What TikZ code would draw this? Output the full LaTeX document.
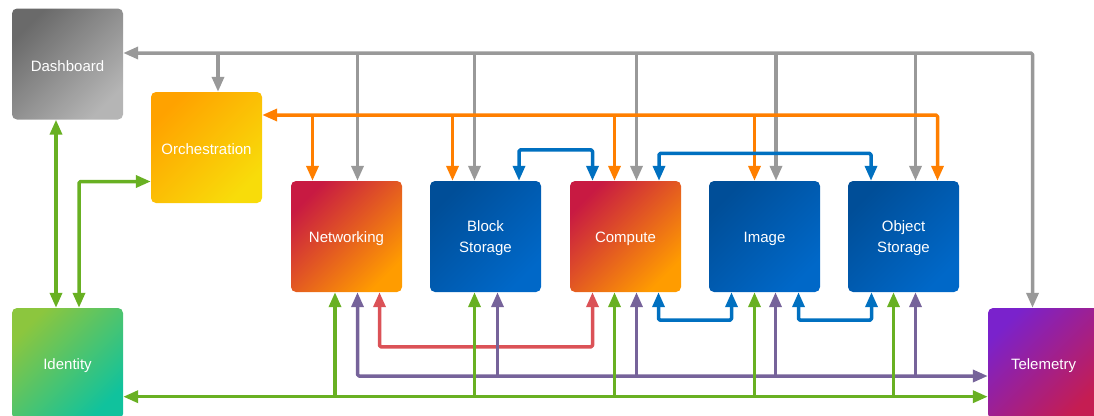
\documentclass[tikz,border=0pt]{standalone}
\usepackage{fontspec}
\setmainfont{Liberation Sans}
\usetikzlibrary{arrows.meta}
\definecolor{cgrey}{HTML}{999999}
\definecolor{corange}{HTML}{FF7F00}
\definecolor{cblue}{HTML}{0070C0}
\definecolor{cred}{HTML}{DB5257}
\definecolor{cpurple}{HTML}{76639A}
\definecolor{cgreen}{HTML}{68B022}
\definecolor{dashA}{HTML}{6A6A6A}
\definecolor{dashB}{HTML}{B5B5B5}
\definecolor{orchA}{HTML}{FFA200}
\definecolor{orchB}{HTML}{F8DC0A}
\definecolor{hotA}{HTML}{C81A42}
\definecolor{hotB}{HTML}{FF9C00}
\definecolor{blueA}{HTML}{004E98}
\definecolor{blueB}{HTML}{0068C8}
\definecolor{idA}{HTML}{8CC63E}
\definecolor{idB}{HTML}{10C29D}
\definecolor{telA}{HTML}{7A22CC}
\definecolor{telB}{HTML}{C51D52}
\begin{document}
\begin{tikzpicture}[x=1pt,y=1pt,
  box/.style={rounded corners=5pt, minimum width=111pt, minimum height=111pt, inner sep=0pt,
    align=center, text=white, font=\fontsize{15}{21}\selectfont},
  wire/.style={line width=3.5pt, line join=round, rounded corners=1.5pt},
  >={Triangle[length=15pt,width=12pt]}]
\useasboundingbox (0,0) rectangle (1094,-415);
\clip (0,0) rectangle (1094,-415);
% nodes
\node[box, top color=dashA, bottom color=dashB, shading angle=45] (dash) at (67.5,-64) {\rule{0pt}{15pt}Dashboard};
\node[box, top color=orchA, bottom color=orchB, shading angle=45] (orch) at (206.5,-147.5) {\rule{0pt}{15pt}Orchestration};
\node[box, top color=hotA, bottom color=hotB, shading angle=45] (net) at (346.5,-236.5) {\rule{0pt}{15pt}Networking};
\node[box, top color=blueA, bottom color=blueB, shading angle=45] (block) at (485.5,-236.5) {\rule{0pt}{15pt}Block\\Storage};
\node[box, top color=hotA, bottom color=hotB, shading angle=45] (comp) at (625.5,-236.5) {\rule{0pt}{15pt}Compute};
\node[box, top color=blueA, bottom color=blueB, shading angle=45] (img) at (764.5,-236.5) {\rule{0pt}{15pt}Image};
\node[box, top color=blueA, bottom color=blueB, shading angle=45] (obj) at (903.5,-236.5) {\rule{0pt}{15pt}Object\\Storage};
\node[box, top color=idA, bottom color=idB, shading angle=45] (ident) at (67.5,-363.5) {\rule{0pt}{15pt}Identity};
\node[box, top color=telA, bottom color=telB, shading angle=45] (tele) at (1043.5,-363.5) {\rule{0pt}{15pt}Telemetry};
\coordinate (gbus) at (0,-53);
\coordinate (obus) at (0,-115);
\coordinate (pbus) at (0,-376);
\coordinate (gnbus) at (0,-396.7);
% grey
\begin{scope}[wire, cgrey]
\draw[<->] ([yshift=11pt]dash.east) -| ([xshift=-11pt]tele.north);
\draw[->] ([xshift=11.5pt]orch.north |- gbus) -- ([xshift=11.5pt]orch.north);
\draw[->] ([xshift=11pt]net.north |- gbus) -- ([xshift=11pt]net.north);
\draw[->] ([xshift=-11pt]block.north |- gbus) -- ([xshift=-11pt]block.north);
\draw[->] ([xshift=11pt]comp.north |- gbus) -- ([xshift=11pt]comp.north);
\draw[->] ([xshift=11.5pt]img.north |- gbus) -- ([xshift=11.5pt]img.north);
\draw[->] ([xshift=12pt]obj.north |- gbus) -- ([xshift=12pt]obj.north);
\end{scope}
% orange
\begin{scope}[wire, corange]
\draw[<->] ([yshift=32.5pt]orch.east) -| ([xshift=34pt]obj.north);
\draw[->] ([xshift=-34pt]net.north |- obus) -- ([xshift=-34pt]net.north);
\draw[->] ([xshift=-33pt]block.north |- obus) -- ([xshift=-33pt]block.north);
\draw[->] ([xshift=-11pt]comp.north |- obus) -- ([xshift=-11pt]comp.north);
\draw[->] ([xshift=-10pt]img.north |- obus) -- ([xshift=-10pt]img.north);
\end{scope}
% blue
\begin{scope}[wire, cblue]
\draw[<->] ([xshift=33.5pt]block.north) -- ++(0,31) -| ([xshift=-33pt]comp.north);
\draw[<->] ([xshift=33.5pt]comp.north) -- ++(0,27.5) -| ([xshift=-32.5pt]obj.north);
\draw[<->] ([xshift=33pt]comp.south) -- ++(0,-28) -| ([xshift=-33pt]img.south);
\draw[<->] ([xshift=34pt]img.south) -- ++(0,-28) -| ([xshift=-32pt]obj.south);
\end{scope}
% red
\draw[wire, cred, <->] ([xshift=33pt]net.south) -- ++(0,-54.7) -| ([xshift=-33pt]comp.south);
% purple
\begin{scope}[wire, cpurple]
\draw[<->] ([xshift=11pt]net.south) |- ([yshift=-12.5pt]tele.west);
\draw[->] ([xshift=12pt]block.south |- pbus) -- ([xshift=12pt]block.south);
\draw[->] ([xshift=11pt]comp.south |- pbus) -- ([xshift=11pt]comp.south);
\draw[->] ([xshift=11pt]img.south |- pbus) -- ([xshift=11pt]img.south);
\draw[->] ([xshift=12pt]obj.south |- pbus) -- ([xshift=12pt]obj.south);
\end{scope}
% green
\begin{scope}[wire, cgreen]
\draw[<->] ([yshift=-33.2pt]ident.east) -- ([yshift=-33.2pt]tele.west);
\draw[->] ([xshift=-11.5pt]net.south |- gnbus) -- ([xshift=-11.5pt]net.south);
\draw[->] ([xshift=-11pt]block.south |- gnbus) -- ([xshift=-11pt]block.south);
\draw[->] ([xshift=-11pt]comp.south |- gnbus) -- ([xshift=-11pt]comp.south);
\draw[->] ([xshift=-10pt]img.south |- gnbus) -- ([xshift=-10pt]img.south);
\draw[->] ([xshift=-10pt]obj.south |- gnbus) -- ([xshift=-10pt]obj.south);
\draw[<->] ([xshift=-11.5pt]dash.south) -- ([xshift=-11.5pt]ident.north);
\draw[<->] ([yshift=-34pt]orch.west) -| ([xshift=11.5pt]ident.north);
\end{scope}
\end{tikzpicture}
\end{document}
